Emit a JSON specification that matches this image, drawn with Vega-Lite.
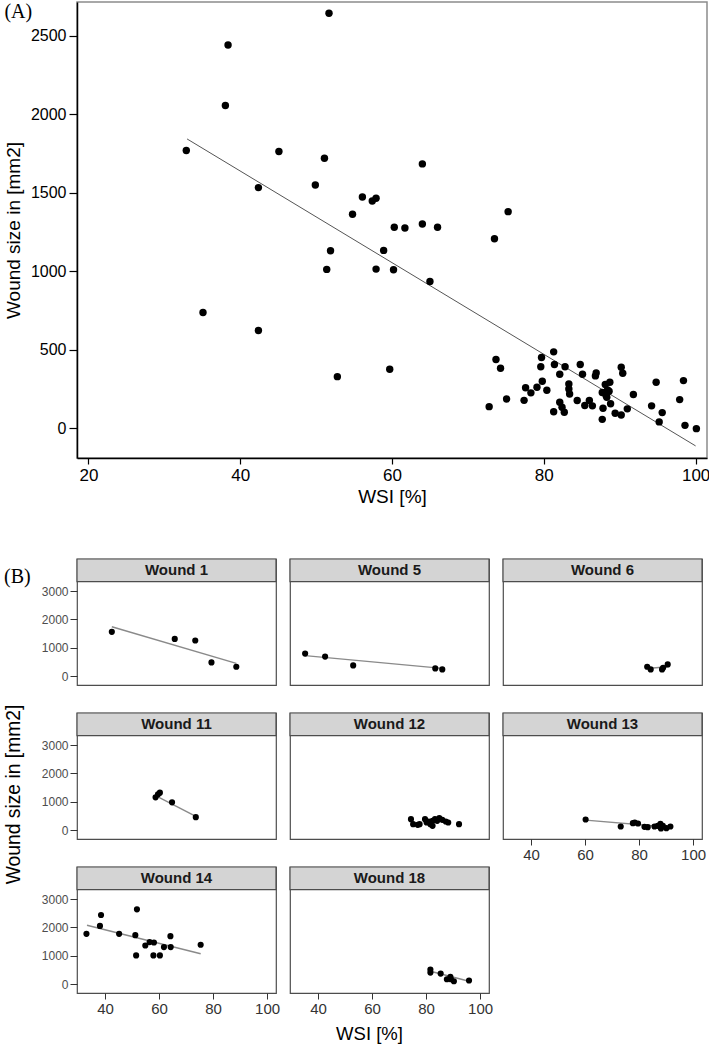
{
  "$schema": "https://vega.github.io/schema/vega-lite/v6.json",
  "background": "white",
  "padding": {"left": 3, "top": 1, "right": 2, "bottom": 2},
  "config": {
    "font": "Liberation Sans",
    "view": {"stroke": "#4d4d4d", "strokeWidth": 1.2}
  },
  "datasets": {
    "a_points": [
      {"wsi": 32.9, "size": 1769}, {"wsi": 38.4, "size": 2441}, {"wsi": 38.05, "size": 2056}, {"wsi": 51.7, "size": 2643},
      {"wsi": 42.4, "size": 1533}, {"wsi": 45.1, "size": 1763}, {"wsi": 51.1, "size": 1720}, {"wsi": 49.9, "size": 1550},
      {"wsi": 56.1, "size": 1473}, {"wsi": 54.8, "size": 1363}, {"wsi": 64.0, "size": 1684}, {"wsi": 57.4, "size": 1448},
      {"wsi": 57.9, "size": 1465}, {"wsi": 60.3, "size": 1280}, {"wsi": 61.7, "size": 1276}, {"wsi": 64.0, "size": 1301},
      {"wsi": 66.0, "size": 1280}, {"wsi": 75.3, "size": 1380}, {"wsi": 73.5, "size": 1207}, {"wsi": 51.9, "size": 1131},
      {"wsi": 51.4, "size": 1012}, {"wsi": 35.1, "size": 738}, {"wsi": 42.4, "size": 623}, {"wsi": 52.8, "size": 329},
      {"wsi": 58.9, "size": 1133}, {"wsi": 57.9, "size": 1014}, {"wsi": 60.2, "size": 1010}, {"wsi": 65.0, "size": 935},
      {"wsi": 59.7, "size": 376}, {"wsi": 72.8, "size": 138}, {"wsi": 73.7, "size": 438}, {"wsi": 74.3, "size": 383},
      {"wsi": 75.1, "size": 187}, {"wsi": 77.4, "size": 178}, {"wsi": 77.6, "size": 258}, {"wsi": 78.3, "size": 226},
      {"wsi": 79.1, "size": 262}, {"wsi": 79.7, "size": 451}, {"wsi": 79.6, "size": 392}, {"wsi": 79.8, "size": 300},
      {"wsi": 80.4, "size": 242}, {"wsi": 81.3, "size": 487}, {"wsi": 81.4, "size": 406}, {"wsi": 81.3, "size": 106},
      {"wsi": 82.1, "size": 344}, {"wsi": 82.8, "size": 392}, {"wsi": 82.1, "size": 166}, {"wsi": 82.4, "size": 134},
      {"wsi": 82.7, "size": 102}, {"wsi": 83.3, "size": 283}, {"wsi": 83.3, "size": 251}, {"wsi": 83.4, "size": 219},
      {"wsi": 84.4, "size": 177}, {"wsi": 84.8, "size": 406}, {"wsi": 85.1, "size": 344}, {"wsi": 85.4, "size": 145},
      {"wsi": 86.0, "size": 177}, {"wsi": 86.4, "size": 143}, {"wsi": 86.8, "size": 334}, {"wsi": 86.9, "size": 353},
      {"wsi": 87.7, "size": 57}, {"wsi": 87.8, "size": 128}, {"wsi": 87.7, "size": 228}, {"wsi": 88.1, "size": 279},
      {"wsi": 88.2, "size": 209}, {"wsi": 88.4, "size": 245}, {"wsi": 88.7, "size": 293}, {"wsi": 88.6, "size": 236},
      {"wsi": 88.8, "size": 156}, {"wsi": 89.4, "size": 96}, {"wsi": 90.2, "size": 389}, {"wsi": 90.4, "size": 351},
      {"wsi": 90.2, "size": 85}, {"wsi": 91.0, "size": 124}, {"wsi": 91.8, "size": 215}, {"wsi": 94.2, "size": 143},
      {"wsi": 94.8, "size": 293}, {"wsi": 95.6, "size": 100}, {"wsi": 95.2, "size": 41}, {"wsi": 97.9, "size": 183},
      {"wsi": 98.4, "size": 304}, {"wsi": 98.6, "size": 19}, {"wsi": 100.1, "size": -2}, {"wsi": 88.3, "size": 198}
    ],
    "a_fit": [
      {"wsi": 33.0, "size": 1843}, {"wsi": 100.0, "size": -112}
    ],
    "strips": [
      {"wound": "Wound 1"}, {"wound": "Wound 5"}, {"wound": "Wound 6"}, {"wound": "Wound 11"},
      {"wound": "Wound 12"}, {"wound": "Wound 13"}, {"wound": "Wound 14"}, {"wound": "Wound 18"}
    ],
    "b_points": [
      {"wound": "Wound 1", "wsi": 42.5, "size": 1564}, {"wound": "Wound 1", "wsi": 65.8, "size": 1315},
      {"wound": "Wound 1", "wsi": 73.4, "size": 1258}, {"wound": "Wound 1", "wsi": 79.4, "size": 487},
      {"wound": "Wound 1", "wsi": 88.6, "size": 334},
      {"wound": "Wound 5", "wsi": 35.2, "size": 796}, {"wound": "Wound 5", "wsi": 42.6, "size": 690},
      {"wound": "Wound 5", "wsi": 53.0, "size": 380}, {"wound": "Wound 5", "wsi": 83.4, "size": 274},
      {"wound": "Wound 5", "wsi": 86.0, "size": 238},
      {"wound": "Wound 6", "wsi": 83.0, "size": 334}, {"wound": "Wound 6", "wsi": 84.3, "size": 238},
      {"wound": "Wound 6", "wsi": 88.5, "size": 238}, {"wound": "Wound 6", "wsi": 88.9, "size": 298},
      {"wound": "Wound 6", "wsi": 90.6, "size": 416},
      {"wound": "Wound 11", "wsi": 58.7, "size": 1158}, {"wound": "Wound 11", "wsi": 59.6, "size": 1264},
      {"wound": "Wound 11", "wsi": 60.3, "size": 1322}, {"wound": "Wound 11", "wsi": 64.8, "size": 981},
      {"wound": "Wound 11", "wsi": 73.6, "size": 460},
      {"wound": "Wound 12", "wsi": 74.4, "size": 390}, {"wound": "Wound 12", "wsi": 75.2, "size": 213},
      {"wound": "Wound 12", "wsi": 76.9, "size": 189}, {"wound": "Wound 12", "wsi": 77.6, "size": 213},
      {"wound": "Wound 12", "wsi": 79.6, "size": 390}, {"wound": "Wound 12", "wsi": 80.2, "size": 272},
      {"wound": "Wound 12", "wsi": 81.0, "size": 307}, {"wound": "Wound 12", "wsi": 81.6, "size": 213},
      {"wound": "Wound 12", "wsi": 82.4, "size": 154}, {"wound": "Wound 12", "wsi": 82.4, "size": 331},
      {"wound": "Wound 12", "wsi": 83.3, "size": 390}, {"wound": "Wound 12", "wsi": 84.1, "size": 331},
      {"wound": "Wound 12", "wsi": 84.9, "size": 425}, {"wound": "Wound 12", "wsi": 86.0, "size": 366},
      {"wound": "Wound 12", "wsi": 87.3, "size": 307}, {"wound": "Wound 12", "wsi": 88.2, "size": 272},
      {"wound": "Wound 12", "wsi": 92.2, "size": 213},
      {"wound": "Wound 13", "wsi": 60.2, "size": 378}, {"wound": "Wound 13", "wsi": 73.2, "size": 130},
      {"wound": "Wound 13", "wsi": 77.7, "size": 248}, {"wound": "Wound 13", "wsi": 78.4, "size": 272},
      {"wound": "Wound 13", "wsi": 79.6, "size": 236}, {"wound": "Wound 13", "wsi": 82.0, "size": 118},
      {"wound": "Wound 13", "wsi": 83.2, "size": 106}, {"wound": "Wound 13", "wsi": 85.7, "size": 130},
      {"wound": "Wound 13", "wsi": 86.9, "size": 154}, {"wound": "Wound 13", "wsi": 87.9, "size": 224},
      {"wound": "Wound 13", "wsi": 88.1, "size": 59}, {"wound": "Wound 13", "wsi": 88.8, "size": 154},
      {"wound": "Wound 13", "wsi": 90.1, "size": 71}, {"wound": "Wound 13", "wsi": 91.6, "size": 130},
      {"wound": "Wound 14", "wsi": 33.1, "size": 1775}, {"wound": "Wound 14", "wsi": 38.5, "size": 2440},
      {"wound": "Wound 14", "wsi": 38.1, "size": 2055}, {"wound": "Wound 14", "wsi": 45.2, "size": 1775},
      {"wound": "Wound 14", "wsi": 51.8, "size": 2639}, {"wound": "Wound 14", "wsi": 51.2, "size": 1729},
      {"wound": "Wound 14", "wsi": 51.5, "size": 1015}, {"wound": "Wound 14", "wsi": 54.9, "size": 1365},
      {"wound": "Wound 14", "wsi": 56.5, "size": 1484}, {"wound": "Wound 14", "wsi": 58.1, "size": 1470},
      {"wound": "Wound 14", "wsi": 57.9, "size": 1015}, {"wound": "Wound 14", "wsi": 60.3, "size": 1015},
      {"wound": "Wound 14", "wsi": 61.8, "size": 1309}, {"wound": "Wound 14", "wsi": 64.2, "size": 1694},
      {"wound": "Wound 14", "wsi": 64.3, "size": 1309}, {"wound": "Wound 14", "wsi": 75.4, "size": 1390},
      {"wound": "Wound 18", "wsi": 81.6, "size": 515}, {"wound": "Wound 18", "wsi": 81.6, "size": 410},
      {"wound": "Wound 18", "wsi": 85.4, "size": 375}, {"wound": "Wound 18", "wsi": 87.7, "size": 175},
      {"wound": "Wound 18", "wsi": 89.0, "size": 259}, {"wound": "Wound 18", "wsi": 89.2, "size": 175},
      {"wound": "Wound 18", "wsi": 90.3, "size": 105}, {"wound": "Wound 18", "wsi": 95.9, "size": 130}
    ],
    "b_fit": [
      {"wound": "Wound 1", "wsi": 42.5, "size": 1742}, {"wound": "Wound 1", "wsi": 88.6, "size": 451},
      {"wound": "Wound 5", "wsi": 35.2, "size": 725}, {"wound": "Wound 5", "wsi": 86.0, "size": 274},
      {"wound": "Wound 6", "wsi": 83.0, "size": 271}, {"wound": "Wound 6", "wsi": 90.6, "size": 334},
      {"wound": "Wound 11", "wsi": 58.7, "size": 1215}, {"wound": "Wound 11", "wsi": 73.6, "size": 485},
      {"wound": "Wound 13", "wsi": 60.2, "size": 354}, {"wound": "Wound 13", "wsi": 91.6, "size": 106},
      {"wound": "Wound 14", "wsi": 33.3, "size": 2079}, {"wound": "Wound 14", "wsi": 75.4, "size": 1075},
      {"wound": "Wound 18", "wsi": 81.6, "size": 455}, {"wound": "Wound 18", "wsi": 95.9, "size": 105}
    ]
  },
  "spacing": 50,
  "vconcat": [
    {
      "width": 630,
      "height": 456,
      "title": {"text": "(A)", "anchor": "start", "frame": "bounds", "offset": -20, "font": "Liberation Serif", "fontSize": 20, "fontWeight": "normal", "color": "#000000"},
      "view": {"stroke": "#8c8c8c", "strokeWidth": 1.5},
      "encoding": {
        "x": {"field": "wsi", "type": "quantitative",
          "scale": {"domain": [18.5, 101.5], "nice": false, "zero": false},
          "axis": {"title": "WSI [%]", "values": [20, 40, 60, 80, 100], "format": "d", "grid": false, "domainColor": "#000000", "domainWidth": 1.5, "tickColor": "#000000", "tickSize": 6, "tickWidth": 1.2, "labelFontSize": 17, "labelColor": "#000000", "labelPadding": 3, "titleFontSize": 19, "titleFontWeight": "normal", "titleColor": "#000000", "titlePadding": 4}},
        "y": {"field": "size", "type": "quantitative",
          "scale": {"domain": [-189, 2715], "nice": false, "zero": false},
          "axis": {"title": "Wound size in [mm2]", "values": [0, 500, 1000, 1500, 2000, 2500], "format": "d", "grid": false, "domainColor": "#000000", "domainWidth": 1.5, "tickColor": "#000000", "tickSize": 8, "tickWidth": 1.2, "labelFontSize": 16, "labelColor": "#000000", "labelPadding": 3, "titleFontSize": 19, "titleFontWeight": "normal", "titleColor": "#000000", "titlePadding": 7}}
      },
      "layer": [
        {"data": {"name": "a_fit"}, "mark": {"type": "line", "color": "#555555", "strokeWidth": 1}},
        {"data": {"name": "a_points"}, "mark": {"type": "circle", "size": 55, "color": "#000000", "opacity": 1}}
      ]
    },
    {
      "title": {"text": "(B)", "anchor": "start", "frame": "bounds", "offset": -29, "font": "Liberation Serif", "fontSize": 20, "fontWeight": "normal", "color": "#000000"},
      "columns": 3,
      "spacing": {"row": 28, "column": 14},
      "bounds": "flush",
      "concat": [
        {
          "width": 199, "height": 126,
          "layer": [
            {"data": {"name": "strips"}, "transform": [{"filter": {"field": "wound", "equal": "Wound 1"}}],
             "mark": {"type": "rect", "fill": "#d4d4d4", "stroke": "#4d4d4d", "strokeWidth": 1.2},
             "encoding": {"x": {"datum": 29.6, "type": "quantitative", "scale": {"domain": [29.6, 103.3], "nice": false, "zero": false}, "axis": null}, "x2": {"datum": 103.3},
               "y": {"datum": 3330, "type": "quantitative", "scale": {"domain": [-310, 4130], "nice": false, "zero": false}, "axis": {"title": null, "values": [0, 1000, 2000, 3000], "format": "d", "domain": false, "grid": false, "tickSize": 7, "tickColor": "#333333", "labelFontSize": 12, "labelColor": "#4d4d4d", "labelPadding": 2}}, "y2": {"datum": 4130}}},
            {"data": {"name": "strips"}, "transform": [{"filter": {"field": "wound", "equal": "Wound 1"}}],
             "mark": {"type": "text", "fontSize": 15, "fontWeight": "bold", "color": "#1a1a1a", "baseline": "middle"},
             "encoding": {"text": {"field": "wound"},
               "y": {"datum": 3730, "type": "quantitative", "scale": {"domain": [-310, 4130], "nice": false, "zero": false}, "axis": {"title": null, "values": [0, 1000, 2000, 3000], "format": "d", "domain": false, "grid": false, "tickSize": 7, "tickColor": "#333333", "labelFontSize": 12, "labelColor": "#4d4d4d", "labelPadding": 2}}}},
            {"data": {"name": "b_fit"}, "transform": [{"filter": {"field": "wound", "equal": "Wound 1"}}],
             "mark": {"type": "line", "color": "#8a8a8a", "strokeWidth": 1.4},
             "encoding": {"x": {"field": "wsi", "type": "quantitative", "scale": {"domain": [29.6, 103.3], "nice": false, "zero": false}, "axis": null},
               "y": {"field": "size", "type": "quantitative", "scale": {"domain": [-310, 4130], "nice": false, "zero": false}, "axis": {"title": null, "values": [0, 1000, 2000, 3000], "format": "d", "domain": false, "grid": false, "tickSize": 7, "tickColor": "#333333", "labelFontSize": 12, "labelColor": "#4d4d4d", "labelPadding": 2}}}},
            {"data": {"name": "b_points"}, "transform": [{"filter": {"field": "wound", "equal": "Wound 1"}}],
             "mark": {"type": "circle", "size": 38, "color": "#000000", "opacity": 1},
             "encoding": {"x": {"field": "wsi", "type": "quantitative", "scale": {"domain": [29.6, 103.3], "nice": false, "zero": false}, "axis": null},
               "y": {"field": "size", "type": "quantitative", "scale": {"domain": [-310, 4130], "nice": false, "zero": false}, "axis": {"title": null, "values": [0, 1000, 2000, 3000], "format": "d", "domain": false, "grid": false, "tickSize": 7, "tickColor": "#333333", "labelFontSize": 12, "labelColor": "#4d4d4d", "labelPadding": 2}}}}
          ]
        },
        {
          "width": 199, "height": 126,
          "layer": [
            {"data": {"name": "strips"}, "transform": [{"filter": {"field": "wound", "equal": "Wound 5"}}],
             "mark": {"type": "rect", "fill": "#d4d4d4", "stroke": "#4d4d4d", "strokeWidth": 1.2},
             "encoding": {"x": {"datum": 29.6, "type": "quantitative", "scale": {"domain": [29.6, 103.3], "nice": false, "zero": false}, "axis": null}, "x2": {"datum": 103.3},
               "y": {"datum": 3330, "type": "quantitative", "scale": {"domain": [-310, 4130], "nice": false, "zero": false}, "axis": null}, "y2": {"datum": 4130}}},
            {"data": {"name": "strips"}, "transform": [{"filter": {"field": "wound", "equal": "Wound 5"}}],
             "mark": {"type": "text", "fontSize": 15, "fontWeight": "bold", "color": "#1a1a1a", "baseline": "middle"},
             "encoding": {"text": {"field": "wound"}, "y": {"datum": 3730, "type": "quantitative", "scale": {"domain": [-310, 4130], "nice": false, "zero": false}, "axis": null}}},
            {"data": {"name": "b_fit"}, "transform": [{"filter": {"field": "wound", "equal": "Wound 5"}}],
             "mark": {"type": "line", "color": "#8a8a8a", "strokeWidth": 1.4},
             "encoding": {"x": {"field": "wsi", "type": "quantitative", "scale": {"domain": [29.6, 103.3], "nice": false, "zero": false}, "axis": null},
               "y": {"field": "size", "type": "quantitative", "scale": {"domain": [-310, 4130], "nice": false, "zero": false}, "axis": null}}},
            {"data": {"name": "b_points"}, "transform": [{"filter": {"field": "wound", "equal": "Wound 5"}}],
             "mark": {"type": "circle", "size": 38, "color": "#000000", "opacity": 1},
             "encoding": {"x": {"field": "wsi", "type": "quantitative", "scale": {"domain": [29.6, 103.3], "nice": false, "zero": false}, "axis": null},
               "y": {"field": "size", "type": "quantitative", "scale": {"domain": [-310, 4130], "nice": false, "zero": false}, "axis": null}}}
          ]
        },
        {
          "width": 199, "height": 126,
          "layer": [
            {"data": {"name": "strips"}, "transform": [{"filter": {"field": "wound", "equal": "Wound 6"}}],
             "mark": {"type": "rect", "fill": "#d4d4d4", "stroke": "#4d4d4d", "strokeWidth": 1.2},
             "encoding": {"x": {"datum": 29.6, "type": "quantitative", "scale": {"domain": [29.6, 103.3], "nice": false, "zero": false}, "axis": null}, "x2": {"datum": 103.3},
               "y": {"datum": 3330, "type": "quantitative", "scale": {"domain": [-310, 4130], "nice": false, "zero": false}, "axis": null}, "y2": {"datum": 4130}}},
            {"data": {"name": "strips"}, "transform": [{"filter": {"field": "wound", "equal": "Wound 6"}}],
             "mark": {"type": "text", "fontSize": 15, "fontWeight": "bold", "color": "#1a1a1a", "baseline": "middle"},
             "encoding": {"text": {"field": "wound"}, "y": {"datum": 3730, "type": "quantitative", "scale": {"domain": [-310, 4130], "nice": false, "zero": false}, "axis": null}}},
            {"data": {"name": "b_fit"}, "transform": [{"filter": {"field": "wound", "equal": "Wound 6"}}],
             "mark": {"type": "line", "color": "#8a8a8a", "strokeWidth": 1.4},
             "encoding": {"x": {"field": "wsi", "type": "quantitative", "scale": {"domain": [29.6, 103.3], "nice": false, "zero": false}, "axis": null},
               "y": {"field": "size", "type": "quantitative", "scale": {"domain": [-310, 4130], "nice": false, "zero": false}, "axis": null}}},
            {"data": {"name": "b_points"}, "transform": [{"filter": {"field": "wound", "equal": "Wound 6"}}],
             "mark": {"type": "circle", "size": 38, "color": "#000000", "opacity": 1},
             "encoding": {"x": {"field": "wsi", "type": "quantitative", "scale": {"domain": [29.6, 103.3], "nice": false, "zero": false}, "axis": null},
               "y": {"field": "size", "type": "quantitative", "scale": {"domain": [-310, 4130], "nice": false, "zero": false}, "axis": null}}}
          ]
        },
        {
          "width": 199, "height": 126,
          "layer": [
            {"data": {"name": "strips"}, "transform": [{"filter": {"field": "wound", "equal": "Wound 11"}}],
             "mark": {"type": "rect", "fill": "#d4d4d4", "stroke": "#4d4d4d", "strokeWidth": 1.2},
             "encoding": {"x": {"datum": 29.6, "type": "quantitative", "scale": {"domain": [29.6, 103.3], "nice": false, "zero": false}, "axis": null}, "x2": {"datum": 103.3},
               "y": {"datum": 3330, "type": "quantitative", "scale": {"domain": [-310, 4130], "nice": false, "zero": false}, "axis": {"title": "Wound size in [mm2]", "values": [0, 1000, 2000, 3000], "format": "d", "domain": false, "grid": false, "tickSize": 7, "tickColor": "#333333", "labelFontSize": 12, "labelColor": "#4d4d4d", "labelPadding": 2, "titleFontSize": 19.3, "titleFontWeight": "normal", "titleColor": "#000000", "titlePadding": 17.7, "titleY": 81}}, "y2": {"datum": 4130}}},
            {"data": {"name": "strips"}, "transform": [{"filter": {"field": "wound", "equal": "Wound 11"}}],
             "mark": {"type": "text", "fontSize": 15, "fontWeight": "bold", "color": "#1a1a1a", "baseline": "middle"},
             "encoding": {"text": {"field": "wound"},
               "y": {"datum": 3730, "type": "quantitative", "scale": {"domain": [-310, 4130], "nice": false, "zero": false}, "axis": {"title": "Wound size in [mm2]", "values": [0, 1000, 2000, 3000], "format": "d", "domain": false, "grid": false, "tickSize": 7, "tickColor": "#333333", "labelFontSize": 12, "labelColor": "#4d4d4d", "labelPadding": 2, "titleFontSize": 19.3, "titleFontWeight": "normal", "titleColor": "#000000", "titlePadding": 17.7, "titleY": 81}}}},
            {"data": {"name": "b_fit"}, "transform": [{"filter": {"field": "wound", "equal": "Wound 11"}}],
             "mark": {"type": "line", "color": "#8a8a8a", "strokeWidth": 1.4},
             "encoding": {"x": {"field": "wsi", "type": "quantitative", "scale": {"domain": [29.6, 103.3], "nice": false, "zero": false}, "axis": null},
               "y": {"field": "size", "type": "quantitative", "scale": {"domain": [-310, 4130], "nice": false, "zero": false}, "axis": {"title": "Wound size in [mm2]", "values": [0, 1000, 2000, 3000], "format": "d", "domain": false, "grid": false, "tickSize": 7, "tickColor": "#333333", "labelFontSize": 12, "labelColor": "#4d4d4d", "labelPadding": 2, "titleFontSize": 19.3, "titleFontWeight": "normal", "titleColor": "#000000", "titlePadding": 17.7, "titleY": 81}}}},
            {"data": {"name": "b_points"}, "transform": [{"filter": {"field": "wound", "equal": "Wound 11"}}],
             "mark": {"type": "circle", "size": 38, "color": "#000000", "opacity": 1},
             "encoding": {"x": {"field": "wsi", "type": "quantitative", "scale": {"domain": [29.6, 103.3], "nice": false, "zero": false}, "axis": null},
               "y": {"field": "size", "type": "quantitative", "scale": {"domain": [-310, 4130], "nice": false, "zero": false}, "axis": {"title": "Wound size in [mm2]", "values": [0, 1000, 2000, 3000], "format": "d", "domain": false, "grid": false, "tickSize": 7, "tickColor": "#333333", "labelFontSize": 12, "labelColor": "#4d4d4d", "labelPadding": 2, "titleFontSize": 19.3, "titleFontWeight": "normal", "titleColor": "#000000", "titlePadding": 17.7, "titleY": 81}}}}
          ]
        },
        {
          "width": 199, "height": 126,
          "layer": [
            {"data": {"name": "strips"}, "transform": [{"filter": {"field": "wound", "equal": "Wound 12"}}],
             "mark": {"type": "rect", "fill": "#d4d4d4", "stroke": "#4d4d4d", "strokeWidth": 1.2},
             "encoding": {"x": {"datum": 29.6, "type": "quantitative", "scale": {"domain": [29.6, 103.3], "nice": false, "zero": false}, "axis": null}, "x2": {"datum": 103.3},
               "y": {"datum": 3330, "type": "quantitative", "scale": {"domain": [-310, 4130], "nice": false, "zero": false}, "axis": null}, "y2": {"datum": 4130}}},
            {"data": {"name": "strips"}, "transform": [{"filter": {"field": "wound", "equal": "Wound 12"}}],
             "mark": {"type": "text", "fontSize": 15, "fontWeight": "bold", "color": "#1a1a1a", "baseline": "middle"},
             "encoding": {"text": {"field": "wound"}, "y": {"datum": 3730, "type": "quantitative", "scale": {"domain": [-310, 4130], "nice": false, "zero": false}, "axis": null}}},
            {"data": {"name": "b_points"}, "transform": [{"filter": {"field": "wound", "equal": "Wound 12"}}],
             "mark": {"type": "circle", "size": 38, "color": "#000000", "opacity": 1},
             "encoding": {"x": {"field": "wsi", "type": "quantitative", "scale": {"domain": [29.6, 103.3], "nice": false, "zero": false}, "axis": null},
               "y": {"field": "size", "type": "quantitative", "scale": {"domain": [-310, 4130], "nice": false, "zero": false}, "axis": null}}}
          ]
        },
        {
          "width": 199, "height": 126,
          "layer": [
            {"data": {"name": "strips"}, "transform": [{"filter": {"field": "wound", "equal": "Wound 13"}}],
             "mark": {"type": "rect", "fill": "#d4d4d4", "stroke": "#4d4d4d", "strokeWidth": 1.2},
             "encoding": {"x": {"datum": 29.6, "type": "quantitative", "scale": {"domain": [29.6, 103.3], "nice": false, "zero": false}, "axis": {"title": null, "values": [40, 60, 80, 100], "domain": false, "grid": false, "tickSize": 6, "tickColor": "#333333", "labelFontSize": 15, "labelColor": "#333333", "labelPadding": 2}}, "x2": {"datum": 103.3},
               "y": {"datum": 3330, "type": "quantitative", "scale": {"domain": [-310, 4130], "nice": false, "zero": false}, "axis": null}, "y2": {"datum": 4130}}},
            {"data": {"name": "strips"}, "transform": [{"filter": {"field": "wound", "equal": "Wound 13"}}],
             "mark": {"type": "text", "fontSize": 15, "fontWeight": "bold", "color": "#1a1a1a", "baseline": "middle"},
             "encoding": {"text": {"field": "wound"}, "y": {"datum": 3730, "type": "quantitative", "scale": {"domain": [-310, 4130], "nice": false, "zero": false}, "axis": null}}},
            {"data": {"name": "b_fit"}, "transform": [{"filter": {"field": "wound", "equal": "Wound 13"}}],
             "mark": {"type": "line", "color": "#8a8a8a", "strokeWidth": 1.4},
             "encoding": {"x": {"field": "wsi", "type": "quantitative", "scale": {"domain": [29.6, 103.3], "nice": false, "zero": false}, "axis": {"title": null, "values": [40, 60, 80, 100], "domain": false, "grid": false, "tickSize": 6, "tickColor": "#333333", "labelFontSize": 15, "labelColor": "#333333", "labelPadding": 2}},
               "y": {"field": "size", "type": "quantitative", "scale": {"domain": [-310, 4130], "nice": false, "zero": false}, "axis": null}}},
            {"data": {"name": "b_points"}, "transform": [{"filter": {"field": "wound", "equal": "Wound 13"}}],
             "mark": {"type": "circle", "size": 38, "color": "#000000", "opacity": 1},
             "encoding": {"x": {"field": "wsi", "type": "quantitative", "scale": {"domain": [29.6, 103.3], "nice": false, "zero": false}, "axis": {"title": null, "values": [40, 60, 80, 100], "domain": false, "grid": false, "tickSize": 6, "tickColor": "#333333", "labelFontSize": 15, "labelColor": "#333333", "labelPadding": 2}},
               "y": {"field": "size", "type": "quantitative", "scale": {"domain": [-310, 4130], "nice": false, "zero": false}, "axis": null}}}
          ]
        },
        {
          "width": 199, "height": 126,
          "layer": [
            {"data": {"name": "strips"}, "transform": [{"filter": {"field": "wound", "equal": "Wound 14"}}],
             "mark": {"type": "rect", "fill": "#d4d4d4", "stroke": "#4d4d4d", "strokeWidth": 1.2},
             "encoding": {"x": {"datum": 29.6, "type": "quantitative", "scale": {"domain": [29.6, 103.3], "nice": false, "zero": false}, "axis": {"title": null, "values": [40, 60, 80, 100], "domain": false, "grid": false, "tickSize": 6, "tickColor": "#333333", "labelFontSize": 15, "labelColor": "#333333", "labelPadding": 2}}, "x2": {"datum": 103.3},
               "y": {"datum": 3330, "type": "quantitative", "scale": {"domain": [-310, 4130], "nice": false, "zero": false}, "axis": {"title": null, "values": [0, 1000, 2000, 3000], "format": "d", "domain": false, "grid": false, "tickSize": 7, "tickColor": "#333333", "labelFontSize": 12, "labelColor": "#4d4d4d", "labelPadding": 2}}, "y2": {"datum": 4130}}},
            {"data": {"name": "strips"}, "transform": [{"filter": {"field": "wound", "equal": "Wound 14"}}],
             "mark": {"type": "text", "fontSize": 15, "fontWeight": "bold", "color": "#1a1a1a", "baseline": "middle"},
             "encoding": {"text": {"field": "wound"},
               "y": {"datum": 3730, "type": "quantitative", "scale": {"domain": [-310, 4130], "nice": false, "zero": false}, "axis": {"title": null, "values": [0, 1000, 2000, 3000], "format": "d", "domain": false, "grid": false, "tickSize": 7, "tickColor": "#333333", "labelFontSize": 12, "labelColor": "#4d4d4d", "labelPadding": 2}}}},
            {"data": {"name": "b_fit"}, "transform": [{"filter": {"field": "wound", "equal": "Wound 14"}}],
             "mark": {"type": "line", "color": "#8a8a8a", "strokeWidth": 1.4},
             "encoding": {"x": {"field": "wsi", "type": "quantitative", "scale": {"domain": [29.6, 103.3], "nice": false, "zero": false}, "axis": {"title": null, "values": [40, 60, 80, 100], "domain": false, "grid": false, "tickSize": 6, "tickColor": "#333333", "labelFontSize": 15, "labelColor": "#333333", "labelPadding": 2}},
               "y": {"field": "size", "type": "quantitative", "scale": {"domain": [-310, 4130], "nice": false, "zero": false}, "axis": {"title": null, "values": [0, 1000, 2000, 3000], "format": "d", "domain": false, "grid": false, "tickSize": 7, "tickColor": "#333333", "labelFontSize": 12, "labelColor": "#4d4d4d", "labelPadding": 2}}}},
            {"data": {"name": "b_points"}, "transform": [{"filter": {"field": "wound", "equal": "Wound 14"}}],
             "mark": {"type": "circle", "size": 38, "color": "#000000", "opacity": 1},
             "encoding": {"x": {"field": "wsi", "type": "quantitative", "scale": {"domain": [29.6, 103.3], "nice": false, "zero": false}, "axis": {"title": null, "values": [40, 60, 80, 100], "domain": false, "grid": false, "tickSize": 6, "tickColor": "#333333", "labelFontSize": 15, "labelColor": "#333333", "labelPadding": 2}},
               "y": {"field": "size", "type": "quantitative", "scale": {"domain": [-310, 4130], "nice": false, "zero": false}, "axis": {"title": null, "values": [0, 1000, 2000, 3000], "format": "d", "domain": false, "grid": false, "tickSize": 7, "tickColor": "#333333", "labelFontSize": 12, "labelColor": "#4d4d4d", "labelPadding": 2}}}}
          ]
        },
        {
          "width": 199, "height": 126,
          "layer": [
            {"data": {"name": "strips"}, "transform": [{"filter": {"field": "wound", "equal": "Wound 18"}}],
             "mark": {"type": "rect", "fill": "#d4d4d4", "stroke": "#4d4d4d", "strokeWidth": 1.2},
             "encoding": {"x": {"datum": 29.6, "type": "quantitative", "scale": {"domain": [29.6, 103.3], "nice": false, "zero": false}, "axis": {"title": "WSI [%]", "values": [40, 60, 80, 100], "domain": false, "grid": false, "tickSize": 6, "tickColor": "#333333", "labelFontSize": 15, "labelColor": "#333333", "labelPadding": 2, "titleFontSize": 18.5, "titleFontWeight": "normal", "titleColor": "#000000", "titlePadding": 8, "titleX": 79}}, "x2": {"datum": 103.3},
               "y": {"datum": 3330, "type": "quantitative", "scale": {"domain": [-310, 4130], "nice": false, "zero": false}, "axis": null}, "y2": {"datum": 4130}}},
            {"data": {"name": "strips"}, "transform": [{"filter": {"field": "wound", "equal": "Wound 18"}}],
             "mark": {"type": "text", "fontSize": 15, "fontWeight": "bold", "color": "#1a1a1a", "baseline": "middle"},
             "encoding": {"text": {"field": "wound"}, "y": {"datum": 3730, "type": "quantitative", "scale": {"domain": [-310, 4130], "nice": false, "zero": false}, "axis": null}}},
            {"data": {"name": "b_fit"}, "transform": [{"filter": {"field": "wound", "equal": "Wound 18"}}],
             "mark": {"type": "line", "color": "#8a8a8a", "strokeWidth": 1.4},
             "encoding": {"x": {"field": "wsi", "type": "quantitative", "scale": {"domain": [29.6, 103.3], "nice": false, "zero": false}, "axis": {"title": "WSI [%]", "values": [40, 60, 80, 100], "domain": false, "grid": false, "tickSize": 6, "tickColor": "#333333", "labelFontSize": 15, "labelColor": "#333333", "labelPadding": 2, "titleFontSize": 18.5, "titleFontWeight": "normal", "titleColor": "#000000", "titlePadding": 8, "titleX": 79}},
               "y": {"field": "size", "type": "quantitative", "scale": {"domain": [-310, 4130], "nice": false, "zero": false}, "axis": null}}},
            {"data": {"name": "b_points"}, "transform": [{"filter": {"field": "wound", "equal": "Wound 18"}}],
             "mark": {"type": "circle", "size": 38, "color": "#000000", "opacity": 1},
             "encoding": {"x": {"field": "wsi", "type": "quantitative", "scale": {"domain": [29.6, 103.3], "nice": false, "zero": false}, "axis": {"title": "WSI [%]", "values": [40, 60, 80, 100], "domain": false, "grid": false, "tickSize": 6, "tickColor": "#333333", "labelFontSize": 15, "labelColor": "#333333", "labelPadding": 2, "titleFontSize": 18.5, "titleFontWeight": "normal", "titleColor": "#000000", "titlePadding": 8, "titleX": 79}},
               "y": {"field": "size", "type": "quantitative", "scale": {"domain": [-310, 4130], "nice": false, "zero": false}, "axis": null}}}
          ]
        }
      ]
    }
  ]
}
